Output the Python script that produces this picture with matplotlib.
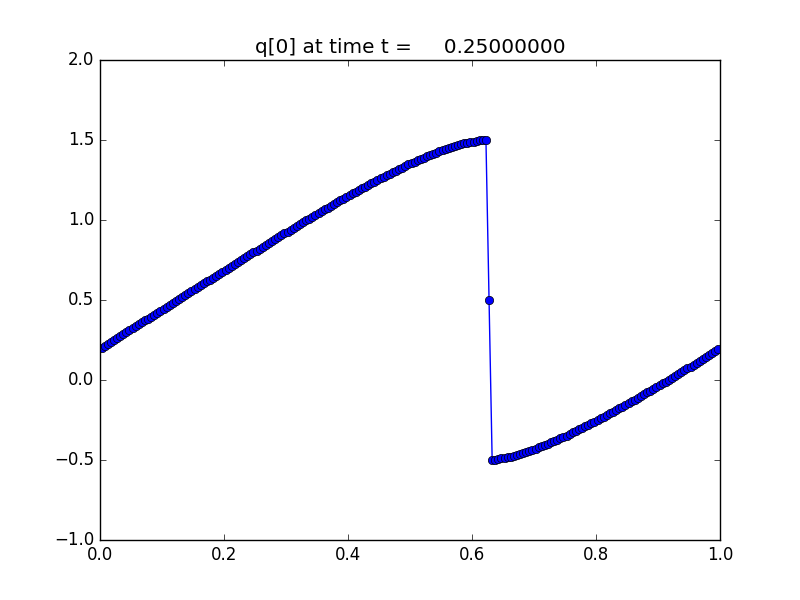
#!/usr/bin/env python

import matplotlib
matplotlib.use('Agg')
import matplotlib.pyplot as plt
import numpy as np

plt.style.use('classic')

# 200 cells on [0, 1]
mx = 200
x = (np.arange(mx) + 0.5) / mx

q_left = [0.203, 0.215, 0.227, 0.239, 0.251,
          0.263, 0.275, 0.287, 0.299, 0.311, 0.323, 0.336, 0.348, 0.360, 0.372,
          0.384, 0.396, 0.408, 0.421, 0.433, 0.445, 0.457, 0.469, 0.482, 0.494,
          0.506, 0.518, 0.531, 0.543, 0.555, 0.567, 0.579, 0.592, 0.604, 0.616,
          0.628, 0.640, 0.652, 0.665, 0.677, 0.689, 0.701, 0.713, 0.725, 0.737, 0.749,
          0.761, 0.773, 0.785, 0.797, 0.809, 0.821, 0.833, 0.845, 0.857,
          0.869, 0.881, 0.893, 0.904, 0.916, 0.928, 0.939, 0.951, 0.963, 0.975,
          0.986, 0.998, 1.009, 1.021, 1.032, 1.043, 1.055, 1.066, 1.078,
          1.089, 1.100, 1.111, 1.122, 1.133, 1.144, 1.155, 1.166, 1.177,
          1.187, 1.198, 1.208, 1.218, 1.229, 1.239, 1.250, 1.260, 1.270,
          1.280, 1.290, 1.299, 1.309, 1.318, 1.328, 1.337,
          1.347, 1.355, 1.364, 1.373, 1.381, 1.390, 1.398,
          1.407, 1.414, 1.421, 1.429, 1.436, 1.443, 1.451,
          1.456, 1.462, 1.468, 1.473, 1.479,
          1.484, 1.487, 1.490, 1.493, 1.497,
          1.499, 1.500]
q_shock = [0.5]
q_right = [-0.499,
           -0.497, -0.494, -0.490, -0.487, -0.484,
           -0.479, -0.473, -0.468, -0.462, -0.456,
           -0.451, -0.443, -0.436, -0.429, -0.421, -0.414, -0.407,
           -0.398, -0.390, -0.381, -0.373, -0.364, -0.355, -0.347,
           -0.337, -0.328, -0.318, -0.308, -0.299, -0.289, -0.280,
           -0.270, -0.260, -0.250, -0.239, -0.229, -0.218, -0.208, -0.198, -0.187,
           -0.177, -0.166, -0.155, -0.144, -0.133, -0.122, -0.111, -0.100, -0.089,
           -0.078, -0.066, -0.055, -0.044, -0.032, -0.021, -0.010, 0.002, 0.013,
           0.025, 0.037, 0.048, 0.060, 0.072, 0.084, 0.096, 0.107, 0.119, 0.131,
           0.143, 0.155, 0.167, 0.179, 0.191]

q = np.array(q_left + q_shock + q_right)
t = 0.25

fig = plt.figure(figsize=(8, 6))
plt.plot(x, q, 'bo-')
plt.xlim(0.0, 1.0)
plt.ylim(-1.0, 2.0)
plt.title('q[0] at time t = %14.8f' % t)

plt.savefig('out.png', dpi=100)
